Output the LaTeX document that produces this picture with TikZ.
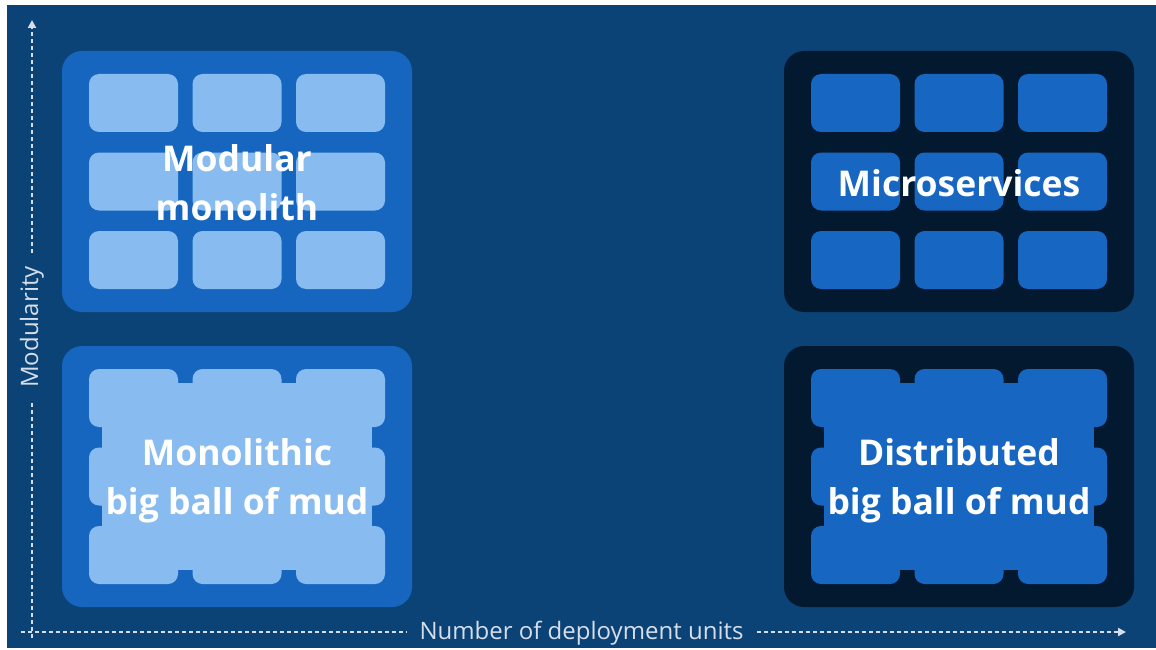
\documentclass[tikz,border=0pt]{standalone}
\usepackage{fontspec}
\setmainfont{Open Sans}
\usetikzlibrary{arrows.meta, positioning, calc}

\definecolor{navybg}{HTML}{0B4377}
\definecolor{frameblue}{HTML}{1666C0}
\definecolor{framedark}{HTML}{03192F}
\definecolor{celllight}{HTML}{88BBEF}
\definecolor{celldark}{HTML}{1766C1}
\definecolor{axisgray}{HTML}{D5DEEA}

\begin{document}
\begin{tikzpicture}[x=1pt, y=-1pt,
	frame/.style={rounded corners=20pt, minimum width=350pt, minimum height=261pt, inner sep=0pt},
	cell/.style={rounded corners=10pt, minimum width=89pt, minimum height=58pt, inner sep=0pt},
	core/.style={minimum width=270pt, minimum height=187pt, inner sep=0pt},
	caption/.style={text=white, font=\bfseries\fontsize{35.5}{49}\selectfont, align=center},
	axislabel/.style={text=axisgray, font=\fontsize{24}{26}\selectfont, inner sep=13pt},
	axisline/.style={draw=axisgray, line width=2pt, dash pattern=on 4pt off 3pt}]
	\useasboundingbox (0,0) rectangle (1156,650);
	\fill[white] (0,0) rectangle (1156,650);
	\fill[navybg] (7,5) rectangle (1156,648);

	% quadrants
	\node[frame, fill=frameblue] (modmono) at (237,181.5) {};
	\node[frame, fill=framedark] (micro)   at (959,181.5) {};
	\node[frame, fill=frameblue] (mudmono) at (237,476.5) {};
	\node[frame, fill=framedark] (muddist) at (959,476.5) {};

	\foreach \f/\c in {modmono/celllight, micro/celldark, mudmono/celllight, muddist/celldark}
		\foreach \dy/\r in {-78.5/1, 0/2, 78.5/3}
			\foreach \dx/\k in {-103.5/1, 0/2, 103.5/3}
				\node[cell, fill=\c] (\f-\r-\k) at ($(\f)+(\dx,\dy)$) {};

	% the mud: cells run into each other
	\node[core, fill=celllight] (mudmono-core) at (mudmono) {};
	\node[core, fill=celldark]  (muddist-core) at (muddist) {};

	\node[caption] (modmono-text) at ($(modmono)+(0,1.5)$) {Modular\\monolith};
	\node[caption] (micro-text)   at ($(micro)+(0,2)$)     {Microservices};
	\node[caption] (mudmono-text) at ($(mudmono)+(0,4.5)$) {Monolithic\\big ball of mud};
	\node[caption] (muddist-text) at ($(muddist)+(0,4.5)$) {Distributed\\big ball of mud};

	% axes
	\coordinate (xstart) at (21,632);
	\coordinate (xend)   at (1126,632);
	\coordinate (ystart) at (32,638);
	\coordinate (yend)   at (32,20);
	\node[axislabel] (xlabel) at (581.5,633.5) {Number of deployment units};
	\node[axislabel, rotate=90] (ylabel) at (32,327) {Modularity};

	\draw[axisline] (xstart) -- (xstart -| xlabel.west);
	\draw[axisline, -{Triangle[length=8pt, width=8pt]}] (xlabel.east |- xend) -- (xend);
	\draw[axisline] (ystart) -- (ylabel);
	\draw[axisline, -{Triangle[length=8pt, width=8pt]}] (ylabel) -- (yend);
\end{tikzpicture}
\end{document}
